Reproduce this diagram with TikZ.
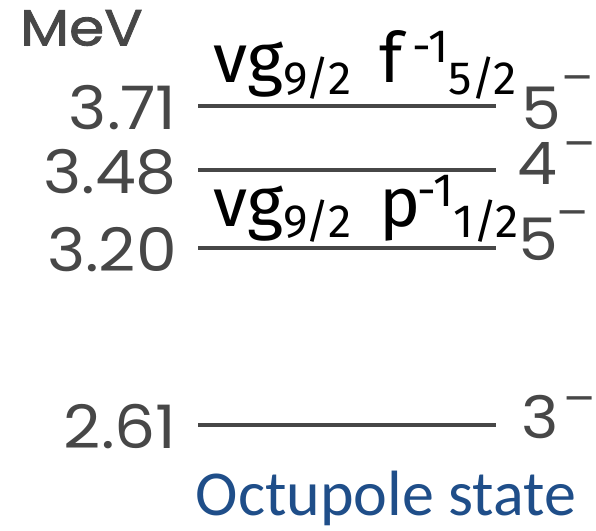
\documentclass[tikz,border=0pt]{standalone}
\usepackage{fontspec}
\setmainfont{Carlito}
\newfontfamily\scanfont{Poppins}[FakeStretch=1.08]
\newfontfamily\unitfont{Poppins}[FakeStretch=1.12,FakeBold=1.6]
\newfontfamily\handfont{Fira Sans}
\usetikzlibrary{positioning}
\definecolor{scanink}{HTML}{474747}
\definecolor{capblue}{HTML}{1F4E89}
\newcommand{\shsub}[1]{\raisebox{-9pt}{\fontsize{35}{35}\selectfont #1}}
\newcommand{\shsup}[1]{\raisebox{15pt}{\fontsize{35}{35}\selectfont #1}}
\newcommand{\parity}[2]{\hspace{#1}\raisebox{#2}{\fontsize{33}{33}\selectfont\textendash}}

\begin{document}
\begin{tikzpicture}[x=0.75pt,y=-0.75pt,
  level/.style={draw=scanink,line width=3pt},
  elab/.style={anchor=east,inner sep=0pt,text=scanink,font=\scanfont\fontsize{45}{45}\selectfont},
  jlab/.style={anchor=base west,inner sep=0pt,text=scanink,font=\scanfont\fontsize{44}{44}\selectfont},
  conf/.style={anchor=base west,inner sep=0pt,font=\handfont\fontsize{52}{52}\selectfont}]
  \useasboundingbox (0,0) rectangle (596,531);
  % unit
  \node[anchor=west,inner sep=0pt,text=scanink,font=\unitfont\fontsize{38}{38}\selectfont] (mev) at (20,28) {MeV};
  % levels: y / energy / spin / spin x / spin baseline / minus shift / minus raise / name
  \foreach \y/\e/\j/\jx/\jy/\kx/\ry/\n in {106/3.71/5/521/130/0pt/27pt/a,170/3.48/4/517/185/5pt/19pt/b,
      248/3.20/5/518/260/-1pt/24pt/c,425/2.61/3/521/438/4pt/18pt/d}{
    \coordinate (L\n) at (198,\y);
    \coordinate (R\n) at (496,\y);
    \draw[level] (L\n) -- (R\n);
    \node[elab] (e\n) at (177,\y+2) {\e};
    \node[jlab] (j\n) at (\jx,\jy) {\j\parity{\kx}{\ry}};
  }
  % configurations
  \node[conf] (c1) at (213,83) {vg\shsub{9/2}\hspace{0.4em}f\kern0.15em\shsup{-1}\shsub{5/2}};
  \node[conf] (c2) at (213,226) {vg\shsub{9/2}\hspace{0.4em}p\kern-0.04em\shsup{-1}\shsub{1/2}};
  % caption
  \node[anchor=base,inner sep=0pt,text=capblue,font=\fontsize{48}{48}\selectfont] (oct) at (386,515) {Octupole state};
\end{tikzpicture}
\end{document}
